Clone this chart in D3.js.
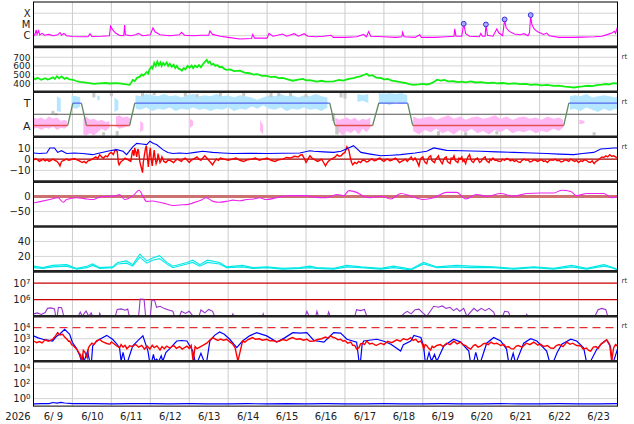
<!DOCTYPE html>
<html>
<head>
<meta charset="utf-8">
<script src="https://cdn.jsdelivr.net/npm/d3@7"></script>
<style>
  body { margin: 0; background: #fff; }
  svg { display: block; }
  text { font-family: "DejaVu Sans", sans-serif; }
</style>
</head>
<body>
<div id="chart"></div>
<script>
// ---- data (t = days since 6/9 00:00) ----
var dayLabels = ["6/ 9", "6/10", "6/11", "6/12", "6/13", "6/14", "6/15", "6/16",
  "6/17", "6/18", "6/19", "6/20", "6/21", "6/22", "6/23"];
var yearLabel = "2026";

// X-ray flux (W/m2)
var xray = [[0.00,9e-7],[0.04,1.4e-6],[0.07,3.2e-6],[0.09,1.3e-6],[0.13,2.8e-6],[0.16,1.2e-6],[0.22,1.6e-6],
  [0.28,1.1e-6],[0.40,1.3e-6],[0.50,1.0e-6],[0.62,1.2e-6],[0.68,1.9e-6],[0.72,1.1e-6],[0.78,1.6e-6],[0.85,1.0e-6],
  [1.00,8.5e-7],[1.20,8e-7],[1.40,8e-7],[1.45,1.5e-6],[1.50,8.5e-7],[1.75,9e-7],[1.95,1.0e-6],[1.98,7e-6],
  [2.03,3.5e-6],[2.10,1.8e-6],[2.20,1.1e-6],[2.32,1.0e-6],[2.34,9e-6],[2.36,1.2e-6],[2.50,1.0e-6],[2.62,1.2e-6],
  [2.70,1.6e-6],[2.80,1.0e-6],[3.00,1.2e-6],[3.07,5e-6],[3.12,2.2e-6],[3.25,1.2e-6],[3.50,1.0e-6],[3.75,1.2e-6],
  [3.80,2e-6],[3.88,1.1e-6],[4.10,1.0e-6],[4.30,1.1e-6],[4.50,1.1e-6],[4.53,2.6e-6],[4.60,1.3e-6],[4.80,9e-7],
  [5.00,7e-7],[5.30,5e-7],[5.60,5.5e-7],[5.63,1.3e-6],[5.68,6e-7],[6.00,6e-7],[6.05,1.6e-6],[6.15,9e-7],
  [6.40,1.4e-6],[6.50,9e-7],[6.70,1.5e-6],[6.80,9e-7],[6.95,1.5e-6],[7.05,9e-7],[7.25,8e-7],[7.45,9e-7],
  [7.64,1.1e-6],[7.70,7e-7],[8.00,7e-7],[8.30,8e-7],[8.48,1.3e-6],[8.55,8e-7],[8.61,2.3e-6],[8.66,9e-7],
  [9.00,8e-7],[9.30,7e-7],[9.46,8e-7],[9.48,2e-6],[9.52,8e-7],[9.80,7e-7],[9.92,1.2e-6],[9.96,7e-7],
  [10.30,7e-7],[10.60,8e-7],[10.80,9e-7],[10.82,4e-6],[10.85,9e-7],[11.00,9e-7],[11.05,1.15e-5],[11.10,1.5e-6],
  [11.20,9e-7],[11.45,8e-7],[11.49,1.6e-6],[11.53,9e-7],[11.60,9e-7],[11.62,9.5e-6],[11.66,1.1e-6],[11.80,9e-7],
  [11.90,4e-6],[11.95,1.8e-6],[12.05,1e-6],[12.10,2.7e-5],[12.14,5e-6],[12.22,2.4e-6],[12.35,1.4e-6],[12.50,1.2e-6],
  [12.60,1.5e-6],[12.70,1.0e-6],[12.74,1.8e-6],[12.77,6.6e-5],[12.80,1e-5],[12.86,4e-6],[12.95,2.2e-6],[13.10,1.3e-6],
  [13.18,1.7e-6],[13.25,1.0e-6],[13.50,7e-7],[13.80,7e-7],[14.10,7.5e-7],[14.40,8e-7],[14.60,9e-7],[14.75,1.3e-6],
  [14.85,1.7e-6],[14.92,2.5e-6],[14.95,1.6e-6],[15.00,6e-6]];
var flares = [[11.05,1.15e-5],[11.62,1.0e-5],[12.10,2.8e-5],[12.77,6.8e-5]];

// solar wind speed (km/s)
var speed = [[0,460],[0.05,445],[0.1,462],[0.2,440],[0.3,458],[0.36,442],[0.42,450],[0.5,468],[0.55,448],
  [0.6,480],[0.66,455],[0.72,478],[0.8,450],[0.85,462],[0.92,445],[1.0,440],[1.1,425],[1.19,415],[1.3,408],
  [1.44,400],[1.55,392],[1.7,398],[1.85,402],[1.95,396],[2.14,400],[2.25,395],[2.34,388],[2.47,380],[2.52,415],
  [2.55,437],[2.6,425],[2.66,462],[2.73,475],[2.78,500],[2.82,488],[2.91,530],[2.95,512],[2.98,560],[3.03,590],
  [3.06,570],[3.1,635],[3.14,600],[3.18,650],[3.22,608],[3.26,640],[3.29,600],[3.33,635],[3.37,610],[3.42,640],
  [3.46,600],[3.5,625],[3.55,590],[3.6,612],[3.64,575],[3.68,600],[3.72,570],[3.77,560],[3.81,545],[3.86,575],
  [3.9,560],[3.96,600],[4.01,580],[4.06,605],[4.1,575],[4.15,605],[4.2,585],[4.25,610],[4.3,585],[4.36,625],
  [4.41,650],[4.45,670],[4.49,635],[4.53,650],[4.57,615],[4.62,625],[4.67,600],[4.72,610],[4.78,585],[4.84,590],
  [4.9,565],[4.96,555],[5.05,560],[5.15,540],[5.3,545],[5.42,522],[5.55,515],[5.65,500],[5.75,505],[5.87,485],
  [5.99,485],[6.1,470],[6.2,475],[6.3,458],[6.4,460],[6.55,440],[6.66,428],[6.8,440],[6.92,450],[7.0,432],
  [7.1,435],[7.27,418],[7.4,428],[7.5,418],[7.71,420],[7.85,438],[7.95,430],[8.1,450],[8.22,458],[8.32,472],
  [8.4,478],[8.48,495],[8.56,508],[8.62,485],[8.7,492],[8.8,465],[8.92,460],[9.0,445],[9.1,448],[9.2,430],
  [9.33,420],[9.45,410],[9.55,402],[9.65,390],[9.76,380],[9.9,385],[10.0,392],[10.1,385],[10.2,395],[10.3,418],
  [10.36,440],[10.46,430],[10.55,438],[10.65,420],[10.79,422],[10.9,412],[11.0,418],[11.1,410],[11.23,420],
  [11.35,408],[11.5,412],[11.65,400],[11.8,405],[11.9,398],[12.05,402],[12.2,392],[12.35,398],[12.5,388],
  [12.65,392],[12.77,380],[12.9,385],[13.05,375],[13.2,380],[13.35,368],[13.5,372],[13.65,360],[13.8,355],
  [13.88,350],[14.0,358],[14.1,362],[14.25,370],[14.35,366],[14.47,378],[14.6,382],[14.7,390],[14.8,386],
  [14.9,400],[15.0,395]];

// sector polarity (+1 toward, -1 away)
var sector = [[0,-1],[0.88,-1],[1.01,1],[1.23,1],[1.36,-1],[2.47,-1],[2.60,1],[7.61,1],[7.74,-1],
  [8.71,-1],[8.87,1],[9.61,1],[9.74,-1],[13.62,-1],[13.75,1],[15,1]];
var sectorLabels = ["A", "T"];

// IMF angle clouds [t, low, high] in sector units
var phiBlue = [[0.6,0.3,1.6],[0.7,0.2,1.4],[0.78,null,null],[0.95,null,null],[0.98,0.6,1.7],[1.1,0.5,1.6],
  [1.2,0.7,1.5],[1.25,null,null],[1.62,null,null],[1.64,1.2,1.7],[1.7,1.3,1.6],[1.72,null,null],[2.05,null,null],
  [2.08,0.2,1.5],[2.18,0.4,1.2],[2.25,null,null],[2.6,null,null],[2.62,0.5,1.7],[2.75,0.4,1.6],[2.9,0.6,1.8],
  [3.05,0.3,1.7],[3.2,0.5,1.6],[3.35,0.4,1.8],[3.5,0.6,1.6],[3.65,0.3,1.7],[3.8,0.5,1.5],[3.95,0.4,1.7],
  [4.1,0.6,1.8],[4.25,0.4,1.6],[4.4,0.5,1.7],[4.55,0.3,1.6],[4.7,0.5,1.8],[4.85,0.4,1.6],[5.0,0.6,1.7],
  [5.15,0.3,1.5],[5.3,0.5,1.7],[5.45,0.4,1.6],[5.6,0.7,1.5],[5.75,0.5,1.3],[5.9,0.8,1.5],[6.05,0.5,1.7],
  [6.2,0.4,1.6],[6.35,0.6,1.8],[6.5,0.3,1.6],[6.65,0.5,1.7],[6.8,0.4,1.5],[6.95,0.6,1.7],[7.1,0.4,1.6],
  [7.25,0.5,1.8],[7.4,0.3,1.6],[7.55,0.6,1.5],[7.6,null,null],[8.3,null,null],[8.32,1.1,1.8],[8.45,1.2,1.7],
  [8.6,1.0,1.8],[8.65,null,null],[8.85,null,null],[8.87,0.9,1.9],[9.0,1.0,1.8],[9.15,0.8,1.9],[9.3,1.1,1.8],
  [9.45,0.9,1.9],[9.6,1.0,1.7],[9.62,null,null],[10.25,null,null],[10.27,1.0,1.3],[10.32,null,null],
  [13.75,null,null],[13.78,0.4,1.6],[13.9,0.5,1.7],[14.05,0.3,1.6],[14.2,0.6,1.8],[14.35,0.4,1.5],
  [14.5,0.2,1.6],[14.65,0.5,1.7],[14.8,0.3,1.6],[14.95,0.5,1.5],[15,0.4,1.6]];
var phiPink = [[0.0,-1.3,-0.3],[0.1,-1.2,-0.4],[0.2,-1.4,-0.3],[0.3,-1.2,-0.5],[0.4,-1.3,-0.2],[0.5,-1.1,-0.4],
  [0.6,-1.4,-0.3],[0.7,-1.2,-0.6],[0.8,-1.3,-0.5],[0.86,-1.1,-0.6],[0.88,null,null],[1.25,null,null],
  [1.28,-1.8,-0.4],[1.35,-1.9,-0.2],[1.45,-1.7,-0.5],[1.55,-1.9,-0.4],[1.65,-1.6,-0.6],[1.75,-1.3,-0.5],
  [1.85,-1.5,-0.7],[1.95,-1.2,-0.6],[1.98,null,null],[2.1,null,null],[2.12,-1.1,-0.2],[2.2,-1.3,-0.1],
  [2.3,-1.2,-0.3],[2.4,-1.1,-0.2],[2.5,-0.9,-0.4],[2.52,null,null],[2.72,null,null],[2.74,-1.6,-0.6],
  [2.82,-1.4,-0.8],[2.86,null,null],[4.0,null,null],[4.02,-1.2,-0.4],[4.1,-1.0,-0.6],[4.13,null,null],
  [5.8,null,null],[5.82,-1.5,-0.5],[5.9,-1.8,-1.0],[5.95,null,null],[7.7,null,null],[7.75,-1.8,-0.3],
  [7.85,-1.6,-0.5],[7.95,-1.9,-0.4],[8.05,-1.5,-0.3],[8.15,-1.7,-0.5],[8.25,-1.4,-0.3],[8.35,-1.8,-0.6],
  [8.45,-1.3,-0.4],[8.55,-1.6,-0.5],[8.65,-1.2,-0.3],[8.7,null,null],[9.72,null,null],[9.75,-1.5,-0.2],
  [9.9,-1.8,-0.4],[10.05,-1.4,-0.3],[10.2,-1.6,-0.2],[10.35,-1.3,-0.5],[10.5,-1.7,-0.3],[10.65,-1.5,-0.1],
  [10.8,-1.8,-0.4],[10.95,-1.4,-0.2],[11.1,-1.6,-0.5],[11.25,-1.3,-0.3],[11.4,-1.7,-0.2],[11.55,-1.5,-0.4],
  [11.7,-1.8,-0.3],[11.85,-1.4,-0.1],[12.0,-1.6,-0.4],[12.15,-1.3,-0.2],[12.3,-1.7,-0.5],[12.45,-1.5,-0.3],
  [12.6,-1.6,-0.2],[12.75,-1.4,-0.4],[12.9,-1.7,-0.3],[13.05,-1.5,-0.5],[13.2,-1.6,-0.2],[13.35,-1.3,-0.4],
  [13.5,-1.5,-0.3],[13.6,-1.2,-0.5],[13.62,null,null],[14.0,null,null],[14.02,-0.9,-0.5],[14.15,-0.8,-0.6],
  [14.2,null,null]];
var phiGrey = [[0.5,0.0,0.3],[0.58,-0.1,0.1],[1.55,1.5,1.9],[1.8,-1.9,-1.6],[2.0,1.6,1.9],[2.15,-1.9,-1.5],
  [2.8,1.6,1.9],[3.1,1.7,1.9],[3.9,1.6,1.9],[4.2,1.5,1.8],[4.8,1.6,1.9],[5.4,1.6,1.9],[6.1,1.5,1.9],
  [6.3,1.6,1.9],[6.6,1.6,1.9],[7.0,1.5,1.8],[7.7,-0.6,0.1],[7.8,-1.8,-1.0],[7.9,1.5,1.9],[8.0,1.4,1.9],
  [10.4,-1.9,-1.5],[11.1,-1.9,-1.6],[11.9,-1.8,-1.5],[14.4,-1.9,-1.6]];

// IMF Bt and Bz (nT)
var bt = [[0,5.5],[0.15,5],[0.34,5.5],[0.42,10],[0.54,10],[0.62,6],[0.72,7.5],[0.85,5],[1.05,5.5],[1.26,5],
  [1.52,4],[1.70,5.5],[1.96,7.5],[2.14,8.5],[2.30,7],[2.39,4],[2.55,11],[2.65,14],[2.78,13.5],[2.91,13],
  [2.99,16],[3.08,14],[3.16,13],[3.32,8.5],[3.45,6],[3.58,5],[3.75,5.5],[3.94,5],[4.15,6],[4.35,7],[4.60,6],
  [4.85,5.5],[5.12,5],[5.5,5.2],[5.99,5],[6.4,5.2],[6.84,5.5],[7.10,7.5],[7.20,7],[7.45,6.5],[7.71,6],[7.9,7],
  [8.05,9.3],[8.22,12],[8.41,6],[8.65,4.5],[8.92,3],[9.2,3.5],[9.43,4],[9.8,5.5],[10.10,7],[10.28,10],[10.61,7.8],
  [11.0,7.5],[11.49,7],[11.9,6.5],[12.33,6],[12.8,5.5],[13.18,5],[13.5,4.5],[13.88,4],[14.1,5],[14.39,6],
  [14.57,9],[14.75,9.5],[14.90,10],[15,10]];
var bz = [[0,-1],[0.05,0.5],[0.1,-0.5],[0.15,-2],[0.2,-1],[0.25,0],[0.3,-1.5],[0.35,-0.5],[0.4,-2],[0.45,-1],
  [0.5,0],[0.55,-1],[0.6,-2],[0.65,-4],[0.68,-6],[0.72,-2],[0.78,-1],[0.85,0],[0.9,-1],[0.95,-0.5],[1.0,0],
  [1.05,0.5],[1.1,-0.5],[1.15,-1],[1.2,-2],[1.25,-3],[1.3,-2],[1.35,-3.5],[1.4,-1.5],[1.45,-1],[1.5,0],[1.55,1],
  [1.6,2],[1.65,0.5],[1.70,4],[1.75,2],[1.80,1],[1.85,3],[1.90,2],[1.95,5],[2.0,6],[2.05,4],[2.1,8.5],[2.15,7],
  [2.18,-3],[2.2,-5],[2.25,-2],[2.3,-1],[2.35,1],[2.4,0],[2.45,-1],[2.5,-2],[2.53,5],[2.55,8],[2.58,3],[2.6,10],
  [2.63,6],[2.65,2],[2.68,9],[2.7,7],[2.73,-2],[2.75,-5],[2.78,-9],[2.8,-12],[2.82,-3],[2.85,4],[2.88,10],
  [2.9,12],[2.92,3],[2.95,-7],[2.97,2],[3.0,10],[3.02,1],[3.05,-6],[3.07,0],[3.1,8],[3.12,2],[3.15,-4],[3.18,-1],
  [3.2,5],[3.23,0],[3.25,-3],[3.28,-1],[3.3,2],[3.35,-2],[3.4,-3],[3.45,-1],[3.5,-1],[3.55,-2],[3.6,-3],[3.65,-1],
  [3.7,0],[3.75,-1],[3.8,-2],[3.85,0],[3.9,1],[3.95,-1],[4.0,-3],[4.05,-1],[4.1,0],[4.15,1],[4.2,2],[4.25,0],
  [4.3,-1],[4.35,1],[4.4,3],[4.45,1],[4.5,-1],[4.55,-3],[4.6,-5],[4.65,-2],[4.7,0],[4.75,-1],[4.8,1],[4.9,0],
  [5.0,-1],[5.1,0],[5.2,1],[5.3,-1],[5.4,-2],[5.5,-0.5],[5.6,0],[5.7,1],[5.8,-1],[5.9,0],[6.0,1],[6.1,-1],
  [6.2,-2],[6.3,-0.5],[6.4,0],[6.5,1.5],[6.6,1],[6.7,2.5],[6.8,2],[6.85,3.5],[6.9,4],[6.95,1],[7.0,-3],[7.05,0],
  [7.1,3],[7.15,1],[7.2,0],[7.25,-1],[7.3,-2],[7.35,-1],[7.4,0],[7.45,-3],[7.5,-6],[7.55,-3],[7.6,-1],[7.65,0],
  [7.7,1],[7.75,2],[7.8,4],[7.85,2.5],[7.9,3],[7.95,5],[8.0,6],[8.03,9],[8.05,11],[8.08,9],[8.1,8],[8.14,1],
  [8.17,-3],[8.2,-5],[8.25,-3],[8.3,-4],[8.35,-2],[8.4,-3],[8.45,-1],[8.5,-1],[8.55,-2.5],[8.6,-2],[8.65,-0.5],
  [8.7,0],[8.75,-1.5],[8.8,-1],[8.85,0.5],[8.9,1],[8.95,-1],[9.0,-2],[9.05,-0.5],[9.1,0],[9.15,-1.5],[9.2,-1],
  [9.25,0],[9.3,1],[9.35,-1],[9.4,-3],[9.45,-2],[9.5,-1],[9.55,0],[9.6,-2],[9.65,0],[9.7,2],[9.75,-1],[9.8,1],
  [9.85,-2],[9.9,-6],[9.93,-1],[9.96,1],[10.0,2],[10.03,-1],[10.06,-3],[10.1,-4],[10.13,0],[10.16,2],[10.2,3],
  [10.23,-1],[10.26,-2],[10.3,-3],[10.33,0],[10.36,1],[10.4,3],[10.43,0],[10.46,-2],[10.5,-4],[10.53,-1],
  [10.56,1],[10.6,2],[10.63,-2],[10.66,-3],[10.7,-4],[10.73,1],[10.76,0],[10.8,3],[10.83,-1],[10.86,-2],
  [10.9,-3],[10.93,1],[10.96,0],[11.0,2],[11.03,-2],[11.06,-1],[11.1,-4],[11.13,0],[11.16,2],[11.2,4],[11.23,0],
  [11.26,-2],[11.3,-3],[11.33,-1],[11.36,0],[11.4,1],[11.43,-1],[11.46,-3],[11.5,-2],[11.53,0],[11.56,1],
  [11.6,2],[11.63,-1],[11.66,-2],[11.7,-3],[11.73,0],[11.76,-1],[11.8,1],[11.85,-1],[11.9,-1],[11.95,-2],
  [12.0,-2],[12.05,0],[12.1,-1],[12.15,0.5],[12.2,0],[12.25,-1.5],[12.3,-0.5],[12.35,-2],[12.4,-1],[12.45,-2.5],
  [12.5,-3],[12.55,-1],[12.6,0],[12.65,-1],[12.7,-0.5],[12.75,-2.5],[12.8,-2],[12.85,-0.5],[12.9,-1],[12.95,-2],
  [13.0,-1],[13.05,-0.5],[13.1,-2],[13.15,-1.5],[13.2,-3],[13.25,-1],[13.3,-0.5],[13.35,-1],[13.4,0],[13.45,-1.5],
  [13.5,-1],[13.55,-2.5],[13.6,-2],[13.65,-0.5],[13.7,-1],[13.75,-2],[13.8,0],[13.85,-1],[13.9,-2],[13.95,-1],
  [14.0,-3],[14.05,-1.5],[14.1,-2],[14.15,-0.5],[14.2,-1],[14.25,-2.5],[14.3,-3],[14.35,-1.5],[14.4,-4],
  [14.45,-2],[14.5,-1],[14.55,0.5],[14.6,2],[14.65,1.5],[14.7,3],[14.75,2],[14.8,4],[14.85,2.5],[14.9,3],
  [14.95,2],[15.0,1]];

// Dst (nT)
var dst = [[0,-21],[0.2,-16],[0.42,-10],[0.63,-4],[0.76,-19],[0.85,-10],[1.10,-4],[1.3,-7],[1.53,-10],[1.70,-2],
  [1.96,1],[2.13,3],[2.21,7],[2.34,-10],[2.56,3],[2.71,21],[2.83,-4],[2.90,-16],[3.05,-15],[3.24,-19],[3.4,-24],
  [3.58,-30],[3.75,-28],[3.93,-27],[4.10,-21],[4.3,-12],[4.44,-4],[4.61,-16],[4.78,-19],[5.0,-15],[5.12,-12],
  [5.3,-14],[5.47,-10],[5.65,-8],[5.81,-4],[5.98,-10],[6.24,-4],[6.41,1],[6.67,3],[7.01,3],[7.2,-2],[7.53,-4],
  [7.79,7],[7.97,3],[8.10,20],[8.30,14],[8.48,1],[8.66,-4],[8.92,1],[9.18,-8],[9.43,10],[9.69,2],[10.02,-10],
  [10.28,-4],[10.61,14],[10.87,14],[11.10,-8],[11.38,7],[11.64,1],[12.0,10],[12.33,1],[12.66,10],[13.03,12],
  [13.36,12],[13.57,21],[13.80,17],[13.95,3],[14.21,10],[14.65,10],[14.85,-4],[15,0]];

// cyan pair
var cyanA = [[0,7],[0.24,5],[0.49,8],[0.85,9],[1.11,4],[1.37,7],[1.52,10],[1.70,5],[2.03,6],[2.16,12],[2.39,14],
  [2.55,9],[2.73,23],[2.91,14],[3.06,18],[3.24,21],[3.42,12],[3.58,7],[3.94,12],[4.09,15],[4.27,9],[4.47,15],
  [4.78,12],[4.96,6],[5.37,8],[5.63,5],[5.99,6],[6.40,4],[6.84,5],[7.1,7],[7.27,5],[7.71,4],[8.05,8],[8.41,6],
  [8.92,4],[9.25,7],[9.69,3],[10.02,12],[10.36,6],[10.87,8],[11.23,7],[11.82,6],[12.33,4],[12.85,6],[13.36,4],
  [13.82,8],[14.21,4],[14.65,9],[14.85,6],[15,3]];
var cyanB = [[0,5],[0.24,4],[0.49,6],[0.85,7],[1.11,3],[1.37,5],[1.52,8],[1.70,4],[2.03,5],[2.16,10],[2.39,11],
  [2.55,7],[2.73,19],[2.91,11],[3.06,15],[3.24,17],[3.42,10],[3.58,5],[3.94,10],[4.09,12],[4.27,7],[4.47,12],
  [4.78,10],[4.96,5],[5.37,6],[5.63,4],[5.99,5],[6.40,3],[6.84,4],[7.1,5],[7.27,4],[7.71,3],[8.05,6],[8.41,5],
  [8.92,3],[9.25,5],[9.69,2],[10.02,10],[10.36,5],[10.87,6],[11.23,5],[11.82,5],[12.33,3],[12.85,5],[13.36,3],
  [13.82,6],[14.21,3],[14.65,7],[14.85,5],[15,2]];

// electron flux
var electron = [[0,1.4e5],[0.1,1.6e5],[0.2,1.3e5],[0.3,1.7e5],[0.36,3e5],[0.45,3.2e5],[0.54,2.8e5],[0.57,6e4],
  [0.61,6e4],[0.64,3.5e5],[0.72,3.3e5],[0.78,6e4],[1.15,6e4],[1.2,1.8e5],[1.25,6e4],[1.35,2.1e5],[1.42,6e4],
  [1.48,1.6e5],[1.52,6e4],[1.68,6e4],[1.7,1.5e5],[1.73,6e4],[2.1,6e4],[2.15,2.6e5],[2.25,2.8e5],[2.35,2.3e5],
  [2.42,2.7e5],[2.46,6e4],[2.7,6e4],[2.74,1.1e6],[2.84,1.05e6],[2.88,6e4],[3.0,6e4],[3.04,9.5e5],[3.11,9e5],
  [3.16,3.5e5],[3.25,4e5],[3.35,3e5],[3.45,2.5e5],[3.58,2e5],[3.62,6e4],[3.75,6e4],[3.8,2e5],[3.9,1.5e5],
  [4.0,2e5],[4.1,6e4],[4.25,6e4],[4.3,2.4e5],[4.4,1.6e5],[4.5,2.6e5],[4.6,2e5],[4.65,6e4],[5.1,6e4],[5.12,1.4e5],
  [5.15,6e4],[5.88,6e4],[5.9,1.4e5],[5.92,6e4],[6.98,6e4],[7.02,2e5],[7.08,6e4],[7.25,6e4],[7.28,2e5],[7.32,6e4],
  [7.55,6e4],[7.58,1.8e5],[7.62,6e4],[8.25,6e4],[8.3,2.5e5],[8.4,2.2e5],[8.5,2.6e5],[8.56,6e4],[9.45,6e4],
  [9.52,1.5e5],[9.6,2e5],[9.7,1.4e5],[9.8,2.5e5],[9.9,2.7e5],[10.0,1.6e5],[10.1,6e4],[10.28,4e5],[10.4,3.5e5],
  [10.5,4.2e5],[10.6,3e5],[10.7,3.5e5],[10.79,2.2e5],[10.87,3e5],[10.95,2e5],[11.05,3e5],[11.13,6e4],[11.31,3e5],
  [11.4,2e5],[11.5,3e5],[11.6,2.2e5],[11.7,3e5],[11.82,1.8e5],[11.86,6e4],[12.05,6e4],[12.1,2e5],[12.2,1.8e5],
  [12.24,6e4],[12.65,6e4],[12.67,1.3e5],[12.7,6e4],[14.42,6e4],[14.5,2.5e5],[14.6,3e5],[14.7,2.5e5],[14.75,6e4],
  [15,6e4]];
var electronLevels = [1e6, 1e7];

// lower flux pair
var fluxBlue = [[0,1800],[0.12,1200],[0.24,900],[0.36,750],[0.49,630],[0.58,1500],[0.67,2500],[0.80,7000],
  [0.93,2500],[1.0,460],[1.1,150],[1.19,30],[1.23,5],[1.26,40],[1.3,5],[1.39,80],[1.44,5],[1.49,5],[1.52,230],
  [1.6,500],[1.70,900],[1.88,2000],[2.03,900],[2.12,400],[2.21,160],[2.25,5],[2.3,60],[2.35,5],[2.42,5],[2.55,230],
  [2.7,800],[2.81,1800],[2.94,80],[2.98,5],[3.04,5],[3.08,40],[3.12,5],[3.16,15],[3.22,5],[3.28,30],[3.32,5],
  [3.4,60],[3.50,130],[3.68,630],[3.8,700],[3.94,630],[4.09,80],[4.15,5],[4.22,5],[4.3,50],[4.38,5],[4.45,5],
  [4.53,630],[4.65,2000],[4.78,4000],[4.9,2500],[5.04,900],[5.22,160],[5.37,630],[5.55,1800],[5.73,3500],
  [5.99,1800],[6.25,500],[6.45,1200],[6.66,3500],[6.85,3200],[7.02,3500],[7.2,700],[7.46,500],[7.6,1500],
  [7.71,3500],[7.89,3200],[8.05,900],[8.30,500],[8.36,5],[8.40,5],[8.44,300],[8.48,630],[8.82,900],[9.0,600],
  [9.18,320],[9.43,80],[9.5,300],[9.69,630],[9.77,2000],[9.95,1300],[10.02,230],[10.06,5],[10.1,5],[10.16,60],
  [10.22,5],[10.3,40],[10.36,5],[10.54,230],[10.79,900],[10.97,500],[11.18,80],[11.22,5],[11.31,5],[11.36,60],
  [11.42,5],[11.49,5],[11.64,400],[11.82,1300],[12.0,630],[12.15,120],[12.2,5],[12.26,5],[12.32,50],[12.37,5],
  [12.41,5],[12.59,400],[12.77,1000],[12.93,630],[13.18,80],[13.25,5],[13.36,5],[13.45,60],[13.57,320],[13.80,900],
  [13.95,630],[14.13,160],[14.2,5],[14.31,5],[14.47,120],[14.6,400],[14.72,800],[14.82,200],[14.86,5],[14.9,5],
  [15,120]];
var fluxRed = [[0,630],[0.08,450],[0.15,560],[0.22,420],[0.3,800],[0.38,600],[0.49,900],[0.55,1500],[0.62,3500],
  [0.68,2200],[0.75,2500],[0.8,1400],[0.85,1000],[0.9,600],[0.93,630],[0.98,300],[1.02,250],[1.07,160],[1.11,120],
  [1.16,60],[1.2,40],[1.25,5],[1.28,90],[1.32,63],[1.38,20],[1.41,150],[1.44,230],[1.5,400],[1.55,300],
  [1.62,650],[1.70,900],[1.75,600],[1.8,500],[1.88,380],[1.96,320],[2.0,520],[2.05,400],[2.12,250],[2.21,160],
  [2.25,300],[2.3,180],[2.35,260],[2.4,130],[2.47,240],[2.55,200],[2.62,320],[2.7,180],[2.78,260],[2.85,120],
  [2.92,220],[2.99,120],[3.05,260],[3.1,160],[3.17,230],[3.25,100],[3.3,200],[3.36,130],[3.42,220],[3.5,150],
  [3.6,250],[3.67,140],[3.75,200],[3.82,120],[3.94,220],[4.0,140],[4.05,250],[4.1,5],[4.15,200],[4.2,130],
  [4.27,180],[4.35,260],[4.45,400],[4.52,700],[4.60,1260],[4.68,900],[4.74,700],[4.8,950],[4.88,750],[4.96,900],
  [5.05,500],[5.12,320],[5.18,150],[5.25,10],[5.3,56],[5.37,630],[5.43,500],[5.5,800],[5.56,1000],[5.63,1260],
  [5.7,900],[5.8,1000],[5.88,750],[5.99,900],[6.07,650],[6.15,700],[6.24,550],[6.32,630],[6.4,850],[6.5,700],
  [6.58,1000],[6.66,1260],[6.75,900],[6.85,1000],[6.93,750],[7.02,900],[7.1,600],[7.2,630],[7.3,850],[7.4,1000],
  [7.5,1400],[7.57,1100],[7.63,1800],[7.7,1300],[7.75,1200],[7.82,800],[7.89,900],[7.95,600],[8.0,700],
  [8.07,400],[8.15,500],[8.2,260],[8.25,250],[8.3,120],[8.36,160],[8.4,350],[8.45,400],[8.5,300],[8.56,630],
  [8.63,350],[8.7,400],[8.8,250],[8.92,400],[9.0,300],[9.1,600],[9.2,450],[9.33,800],[9.42,600],[9.5,1000],
  [9.6,800],[9.69,1260],[9.75,700],[9.82,900],[9.88,500],[9.95,630],[10.0,250],[10.02,120],[10.06,300],[10.1,250],
  [10.15,140],[10.2,100],[10.24,220],[10.28,160],[10.36,250],[10.45,300],[10.52,200],[10.61,400],[10.7,300],
  [10.8,600],[10.88,350],[10.97,500],[11.03,300],[11.1,250],[11.17,150],[11.23,120],[11.3,250],[11.35,300],
  [11.42,180],[11.49,230],[11.55,350],[11.6,400],[11.68,300],[11.75,500],[11.82,350],[11.9,400],[12.0,250],
  [12.08,320],[12.14,180],[12.2,200],[12.27,130],[12.33,120],[12.4,220],[12.45,250],[12.55,180],[12.66,400],
  [12.75,300],[12.85,500],[12.95,280],[13.03,320],[13.1,200],[13.2,250],[13.28,150],[13.36,140],[13.43,250],
  [13.5,300],[13.6,200],[13.70,500],[13.78,320],[13.85,400],[13.95,250],[14.05,230],[14.12,120],[14.2,150],
  [14.26,90],[14.31,80],[14.38,180],[14.45,200],[14.5,130],[14.57,320],[14.65,500],[14.72,800],[14.77,450],
  [14.8,300],[14.85,5],[14.9,150],[14.95,300],[15,230]];
var fluxLevel = 1e4;

// proton flux (bottom)
var proton = [[0,0.2],[0.2,0.22],[0.4,0.21],[0.5,0.3],[0.6,0.25],[0.7,0.32],[0.8,0.26],[1.0,0.22],[1.5,0.21],
  [2.0,0.2],[2.5,0.21],[3.0,0.22],[3.5,0.2],[4.0,0.21],[4.5,0.2],[5.0,0.2],[5.5,0.21],[6.0,0.2],[6.5,0.22],
  [7.0,0.2],[7.5,0.21],[8.0,0.2],[8.5,0.2],[9.0,0.21],[9.5,0.2],[10.0,0.2],[10.5,0.21],[11.0,0.2],[11.5,0.2],
  [12.0,0.21],[12.5,0.2],[13.0,0.2],[13.5,0.21],[14.0,0.2],[14.5,0.2],[15,0.21]];

// ---- layout ----
var width = 634, height = 424;
var plotLeft = 33.5, plotRight = 617.5;
var panelTop = 2, panelH = 44.9, nPanels = 9;
function pTop(i) { return panelTop + i * panelH; }
function pBot(i) { return panelTop + (i + 1) * panelH; }

var svg = d3.select("#chart").append("svg")
  .attr("width", width)
  .attr("height", height);

var x = d3.scaleLinear().domain([0, 15]).range([plotLeft, plotRight]);

var ys = [
  d3.scaleLog().domain([1e-7, 1e-3]),
  d3.scaleLinear().domain([300, 820]),
  d3.scaleLinear().domain([-2, 2]),
  d3.scaleLinear().domain([-20, 20]),
  d3.scaleLinear().domain([-100, 50]),
  d3.scaleLinear().domain([0, 60]),
  d3.scaleLog().domain([1e5, 5e7]),
  d3.scaleLog().domain([10, 1e5]),
  d3.scaleLog().domain([0.1, 1e5])
];
ys.forEach(function (s, i) { s.range([pBot(i), pTop(i)]).clamp(true); });

// clip paths per panel
var defs = svg.append("defs");
for (var i = 0; i < nPanels; i++) {
  defs.append("clipPath").attr("id", "clip" + i)
    .append("rect")
    .attr("x", plotLeft).attr("y", pTop(i))
    .attr("width", plotRight - plotLeft).attr("height", panelH);
}
function layer(i) {
  return svg.append("g").attr("clip-path", "url(#clip" + i + ")");
}

// horizontal gridlines
var gridVals = [[1e-6, 1e-5, 1e-4], [400, 500, 600, 700], [], [10, -10], [-50], [20, 40], [], [100, 1000], [1, 100, 1e4]];
var grid = svg.append("g");
gridVals.forEach(function (vals, i) {
  grid.selectAll(null).data(vals).enter().append("line")
    .attr("x1", plotLeft).attr("x2", plotRight)
    .attr("y1", function (d) { return ys[i](d); })
    .attr("y2", function (d) { return ys[i](d); })
    .attr("stroke", "#d4d4d4").attr("stroke-width", 1);
});
// vertical day lines
grid.selectAll(null).data(d3.range(1, 15)).enter().append("line")
  .attr("x1", function (d) { return x(d); }).attr("x2", function (d) { return x(d); })
  .attr("y1", pTop(0)).attr("y2", pBot(nPanels - 1))
  .attr("stroke", "#cccccc").attr("stroke-width", 1);

function lineFor(i) {
  return d3.line()
    .x(function (d) { return x(d[0]); })
    .y(function (d) { return ys[i](d[1]); });
}

// panel 0: x-ray
var g0 = layer(0);
g0.append("path").datum(xray)
  .attr("fill", "none").attr("stroke", "#ff00ff").attr("stroke-width", 1.1)
  .attr("d", lineFor(0));
svg.append("g").selectAll("circle").data(flares).enter().append("circle")
  .attr("cx", function (d) { return x(d[0]); })
  .attr("cy", function (d) { return ys[0](d[1]); })
  .attr("r", 2.4)
  .attr("fill", "#b0a8ff").attr("stroke", "#3030e0").attr("stroke-width", 1);

// panel 1: speed
layer(1).append("path").datum(speed)
  .attr("fill", "none").attr("stroke", "#11ee11").attr("stroke-width", 1.8)
  .attr("d", lineFor(1));

// panel 2: sector
var g2 = layer(2);
function band(data, color) {
  g2.append("path").datum(data)
    .attr("fill", color).attr("stroke", "none")
    .attr("d", d3.area()
      .defined(function (d) { return d[1] != null; })
      .x(function (d) { return x(d[0]); })
      .y0(function (d) { return ys[2](d[1]); })
      .y1(function (d) { return ys[2](d[2]); }));
}
band(phiPink, "#ffb8f4");
band(phiBlue, "#b4e6ff");
g2.selectAll(null).data(phiGrey).enter().append("rect")
  .attr("x", function (d) { return x(d[0]) - 1.5; })
  .attr("y", function (d) { return ys[2](d[2]); })
  .attr("width", 3)
  .attr("height", function (d) { return ys[2](d[1]) - ys[2](d[2]); })
  .attr("fill", "#c8c8c8");
g2.append("line")
  .attr("x1", plotLeft).attr("x2", plotRight)
  .attr("y1", ys[2](0)).attr("y2", ys[2](0))
  .attr("stroke", "#555").attr("stroke-width", 1);
var segs = d3.pairs(sector);
g2.selectAll(null).data(segs).enter().append("line")
  .attr("x1", function (d) { return x(d[0][0]); })
  .attr("x2", function (d) { return x(d[1][0]); })
  .attr("y1", function (d) { return ys[2](d[0][1]); })
  .attr("y2", function (d) { return ys[2](d[1][1]); })
  .attr("stroke", function (d) {
    if (d[0][1] !== d[1][1]) return "#5f8a5f";
    return d[0][1] > 0 ? "#5566ee" : "#e05050";
  })
  .attr("stroke-width", 1.3);

// panel 3: Bt / Bz
var g3 = layer(3);
g3.append("line")
  .attr("x1", plotLeft).attr("x2", plotRight)
  .attr("y1", ys[3](0)).attr("y2", ys[3](0))
  .attr("stroke", "#a00000").attr("stroke-width", 1.2);
g3.append("path").datum(bz)
  .attr("fill", "none").attr("stroke", "#ff0000").attr("stroke-width", 1.4)
  .attr("d", lineFor(3));
g3.append("path").datum(bt)
  .attr("fill", "none").attr("stroke", "#0000ff").attr("stroke-width", 1.1)
  .attr("d", lineFor(3));

// panel 4: Dst
var g4 = layer(4);
g4.append("line")
  .attr("x1", plotLeft).attr("x2", plotRight)
  .attr("y1", ys[4](0)).attr("y2", ys[4](0))
  .attr("stroke", "#cc7070").attr("stroke-width", 3);
g4.append("path").datum(dst)
  .attr("fill", "none").attr("stroke", "#ee22ee").attr("stroke-width", 1.1)
  .attr("d", lineFor(4).curve(d3.curveMonotoneX));

// panel 5: cyan pair
var g5 = layer(5);
[cyanA, cyanB].forEach(function (s) {
  g5.append("path").datum(s)
    .attr("fill", "none").attr("stroke", "#00e8e8").attr("stroke-width", 1.1)
    .attr("d", lineFor(5));
});

// panel 6: electrons
var g6 = layer(6);
g6.selectAll(null).data(electronLevels).enter().append("line")
  .attr("x1", plotLeft).attr("x2", plotRight)
  .attr("y1", function (d) { return ys[6](d); })
  .attr("y2", function (d) { return ys[6](d); })
  .attr("stroke", "#cc0000").attr("stroke-width", 1.2);
g6.append("path").datum(electron)
  .attr("fill", "none").attr("stroke", "#9933cc").attr("stroke-width", 1.1)
  .attr("d", lineFor(6));

// panel 7: flux pair
var g7 = layer(7);
g7.append("line")
  .attr("x1", plotLeft).attr("x2", plotRight)
  .attr("y1", ys[7](fluxLevel)).attr("y2", ys[7](fluxLevel))
  .attr("stroke", "#e03030").attr("stroke-width", 1.3)
  .attr("stroke-dasharray", "8,5");
g7.append("path").datum(fluxBlue)
  .attr("fill", "none").attr("stroke", "#0000ff").attr("stroke-width", 1.2)
  .attr("d", lineFor(7));
g7.append("path").datum(fluxRed)
  .attr("fill", "none").attr("stroke", "#ff0000").attr("stroke-width", 1.4)
  .attr("d", lineFor(7));

// panel 8: protons
layer(8).append("path").datum(proton)
  .attr("fill", "none").attr("stroke", "#0000ff").attr("stroke-width", 1.2)
  .attr("d", lineFor(8));

// ---- frames ----
var frame = svg.append("g");
frame.append("rect")
  .attr("x", plotLeft).attr("y", pTop(0))
  .attr("width", plotRight - plotLeft).attr("height", pBot(nPanels - 1) - pTop(0))
  .attr("fill", "none").attr("stroke", "#000").attr("stroke-width", 1);
frame.selectAll(null).data(d3.range(1, nPanels)).enter().append("line")
  .attr("x1", plotLeft).attr("x2", plotRight)
  .attr("y1", function (d) { return pTop(d); })
  .attr("y2", function (d) { return pTop(d); })
  .attr("stroke", "#222").attr("stroke-width", 2.6);

// ---- y labels ----
var tickSpecs = [
  { vals: [1e-6, 1e-5, 1e-4], fmt: function (d, k) { return ["C", "M", "X"][k]; }, size: 10 },
  { vals: [400, 500, 600, 700], fmt: d3.format("d"), size: 9 },
  { vals: [-1, 1], fmt: function (d, k) { return sectorLabels[k]; }, size: 11 },
  { vals: [-10, 0, 10], fmt: d3.format("d") },
  { vals: [-50, 0], fmt: d3.format("d") },
  { vals: [20, 40], fmt: d3.format("d") },
  { vals: [1e6, 1e7], pow: true },
  { vals: [100, 1000, 10000], pow: true },
  { vals: [1, 100, 10000], pow: true }
];
tickSpecs.forEach(function (spec, i) {
  var ax = d3.axisLeft(ys[i]).tickValues(spec.vals).tickSize(0).tickPadding(3)
    .tickFormat(spec.pow ? function () { return ""; } : spec.fmt);
  var g = svg.append("g").attr("transform", "translate(" + plotLeft + ",0)").call(ax);
  g.select(".domain").remove();
  g.selectAll("text")
    .attr("font-family", "DejaVu Sans, sans-serif")
    .attr("font-size", spec.size || 10)
    .attr("fill", "#222");
  if (spec.pow) {
    g.selectAll("text").each(function (d) {
      var t = d3.select(this);
      t.append("tspan").text("10");
      t.append("tspan").attr("dy", "-0.45em").attr("font-size", 7).text(Math.round(Math.log10(d)));
    });
  }
});

// right-side "rt" tags
var rtPanels = [1, 2, 3, 6, 7];
svg.append("g").selectAll("text").data(rtPanels).enter().append("text")
  .attr("x", plotRight + 4)
  .attr("y", function (d) { return pTop(d) + 12; })
  .attr("font-size", 7).attr("fill", "#333")
  .text("rt");

// ---- x axis ----
var xAxis = d3.axisBottom(x)
  .tickValues(d3.range(0.5, 15, 1))
  .tickSize(0).tickPadding(7)
  .tickFormat(function (d, k) { return dayLabels[k]; });
var gx = svg.append("g")
  .attr("transform", "translate(0," + pBot(nPanels - 1) + ")")
  .call(xAxis);
gx.select(".domain").remove();
gx.selectAll("text")
  .attr("font-family", "DejaVu Sans, sans-serif")
  .attr("font-size", 10).attr("fill", "#222")
  .style("white-space", "pre");
svg.append("text")
  .attr("x", 18).attr("y", pBot(nPanels - 1) + 14)
  .attr("text-anchor", "middle")
  .attr("font-size", 10).attr("fill", "#222")
  .text(yearLabel);
</script>
</body>
</html>
